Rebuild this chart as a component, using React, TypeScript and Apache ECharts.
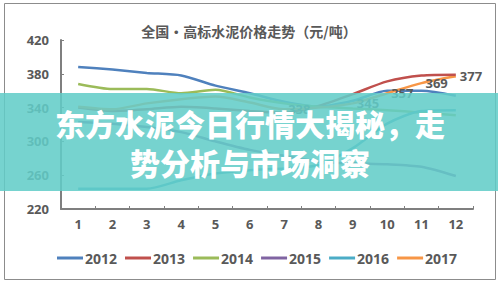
import React, { useEffect, useRef } from "react";
import * as echarts from "echarts";

const months = ["1", "2", "3", "4", "5", "6", "7", "8", "9", "10", "11", "12"];
const years = ["2012", "2013", "2014", "2015", "2016", "2017"];
const colors = ["#4F81BD", "#C0504D", "#9BBB59", "#8064A2", "#4BACC6", "#F79646"];

const v2012 = [388, 385, 381, 378, 366, 357, 347, 341, 348, 360, 360, 354];
const v2013 = [340, 336, 338, 341, 339, 336, 334, 342, 356, 371, 378, 379];
const v2014 = [368, 362, 362, 357, 361, 352, 345, 341, 339, 337, 334, 331];
const v2015 = [323, 321, 317, 311, 300, 290, 283, 276, 274, 273, 270, 259];
const v2016 = [244, 244, 244, 254, 262, 266, 268, 272, 292, 321, 336, 337];
const v2017 = [341, 338, 345, 350, 353, 346, 338, 340, 345, 357, 369, 377];
const labeled2017 = [false, false, false, false, false, false, true, false, true, true, true, true];

const yMin = 220;
const yMax = 420;
const yStep = 40;

const chartTitle = "全国•高标水泥价格走势（元/吨）";
const overlayLine1 = "东方水泥今日行情大揭秘，走";
const overlayLine2 = "势分析与市场洞察";

export default function App() {
  const ref = useRef<HTMLDivElement>(null);
  useEffect(() => {
    if (!ref.current) return;
    const chart = echarts.init(ref.current, null, { renderer: "svg" });
    const all = [v2012, v2013, v2014, v2015, v2016, v2017];
    const series = all.map((vals, i) => ({
      name: years[i],
      type: "line",
      smooth: 0.25,
      symbol: i === 5 ? "circle" : "none",
      symbolSize: 0.01,
      showSymbol: i === 5,
      lineStyle: { width: 2.5, color: colors[i] },
      itemStyle: { color: colors[i] },
      z: 2 + i,
      labelLayout: { hideOverlap: false },
      data:
        i === 5
          ? vals.map((v, k) => ({
              value: v,
              label: {
                show: labeled2017[k],
                position: "right",
                distance: 4,
                color: "#595959",
                fontSize: 13,
                fontWeight: "bold",
                fontFamily: "Open Sans",
              },
            }))
          : vals,
    }));
    chart.setOption({
      animation: false,
      backgroundColor: "#ffffff",
      title: {
        text: chartTitle,
        left: "center",
        top: 19,
        textStyle: {
          fontSize: 14,
          fontWeight: "bold",
          color: "#595959",
          fontFamily: "Noto Sans CJK SC",
        },
      },
      legend: {
        data: years,
        left: 52,
        top: 246,
        icon: "rect",
        itemWidth: 26,
        itemHeight: 3,
        itemGap: 8,
        textStyle: {
          fontSize: 14,
          fontWeight: "bold",
          color: "#595959",
          fontFamily: "Open Sans",
          padding: [0, 0, 0, -3],
        },
      },
      grid: { left: 61, right: 25, top: 40, bottom: 75, containLabel: false },
      xAxis: {
        type: "category",
        data: months,
        boundaryGap: true,
        axisLine: { lineStyle: { color: "#7f7f7f", width: 2 } },
        axisTick: { show: true, inside: true, length: 3, lineStyle: { color: "#7f7f7f" } },
        axisLabel: {
          color: "#595959",
          fontSize: 13,
          fontWeight: "bold",
          fontFamily: "Open Sans",
          margin: 8,
        },
        splitLine: { show: false },
      },
      yAxis: {
        type: "value",
        min: yMin,
        max: yMax,
        interval: yStep,
        axisLine: { show: true, lineStyle: { color: "#7f7f7f", width: 2 } },
        axisTick: { show: true, inside: true, length: 3, lineStyle: { color: "#7f7f7f" } },
        axisLabel: {
          color: "#595959",
          fontSize: 13,
          fontWeight: "bold",
          fontFamily: "Open Sans",
          margin: 12,
        },
        splitLine: { show: false },
      },
      graphic: [
        {
          type: "rect",
          z: 1,
          shape: { x: 4.5, y: 3.5, width: 491, height: 276 },
          style: { fill: "none", stroke: "#8c8c8c", lineWidth: 1 },
          silent: true,
        },
        {
          type: "rect",
          z: 100,
          shape: { x: 0, y: 93, width: 498, height: 98 },
          style: { fill: "rgba(98,205,200,0.87)" },
          silent: true,
        },
        {
          type: "text",
          z: 101,
          x: 250,
          y: 123,
          style: {
            text: overlayLine1,
            fill: "#ffffff",
            font: '900 30px "Noto Sans CJK SC"',
            lineHeight: 34,
            textAlign: "center",
            textVerticalAlign: "middle",
          },
          silent: true,
        },
        {
          type: "text",
          z: 101,
          x: 250,
          y: 162,
          style: {
            text: overlayLine2,
            fill: "#ffffff",
            font: '900 30px "Noto Sans CJK SC"',
            lineHeight: 34,
            textAlign: "center",
            textVerticalAlign: "middle",
          },
          silent: true,
        },
      ],
      series,
    });
    return () => chart.dispose();
  }, []);
  return (
    <div style={{ position: "fixed", left: 0, top: 0, width: 498, height: 284, background: "#fff" }}>
      <div ref={ref} style={{ width: 498, height: 284 }} />
    </div>
  );
}
